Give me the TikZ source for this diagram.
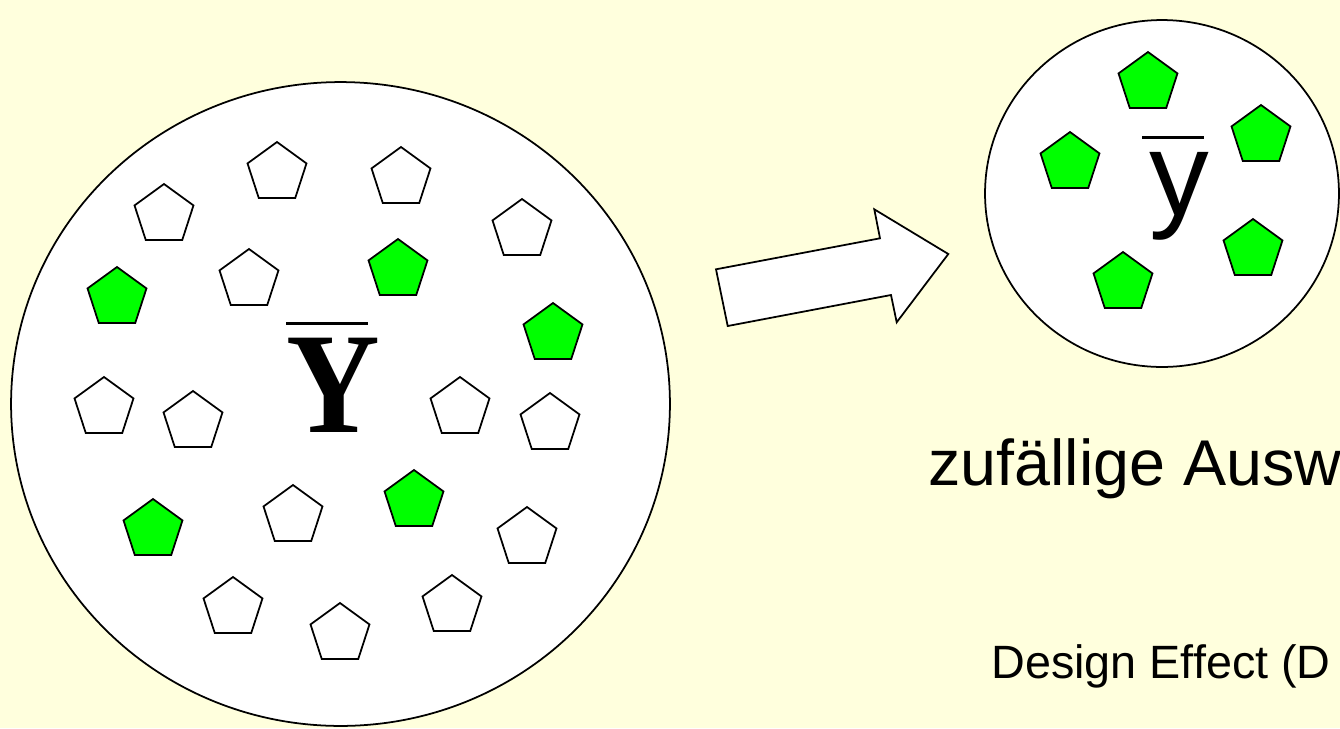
\documentclass[tikz,border=0pt]{standalone}
\usepackage{fontspec}
\setmainfont{Liberation Sans}
\newfontfamily\serifY{Liberation Serif}
\usetikzlibrary{shapes.geometric}
\definecolor{bgyellow}{RGB}{255,255,221}
\definecolor{pentgreen}{RGB}{0,255,0}
\tikzset{pent/.style={draw=black, line width=1pt, fill=white, regular polygon, regular polygon sides=5, minimum size=1.24cm, inner sep=0pt},
         pentg/.style={pent, fill=pentgreen},
         lbl/.style={inner sep=0pt, anchor=base west}}

\begin{document}
\begin{tikzpicture}[x=0.02cm,y=-0.02cm]
\useasboundingbox (0,0) rectangle (1340,728);
\fill[bgyellow] (0,0) rectangle (1340,728);
    % Population
    \draw[fill=white, line width=1pt] (340.5,404) ellipse (6.59cm and 6.44cm);
    \foreach \x/\y [count=\i] in {277/173, 401/178, 164/215, 522/230, 249/280, 104/408, 193/422, 460/408, 550/424, 293/516, 527/538, 233/608, 340/634, 452/606}
        \node[pent] (w\i) at (\x,\y) {};
    \foreach \x/\y [count=\i] in {398/270, 117/298, 553/334, 153/530, 414/501}
        \node[pentg] (g\i) at (\x,\y) {};
    \node[font=\serifY\bfseries\fontsize{82}{82}\selectfont, xscale=0.9, inner sep=0pt, anchor=base] (Ymean) at (333.5,432) {Y};
    \draw[line width=0.06cm] (286,323.5) -- (368,323.5);
    % Arrow
    \draw[fill=white, line width=1pt, line join=miter] (716,269.3) -- (880,238.3) -- (874.3,209.3) -- (948.3,254) -- (896.7,322.3) -- (891,295) -- (727.7,326) -- cycle;
    % Sample
    \draw[fill=white, line width=1pt] (1162,193.5) ellipse (3.54cm and 3.47cm);
    \foreach \x/\y [count=\i] in {1148/83, 1261/136, 1070/163, 1253/250, 1123/283}
        \node[pentg] (s\i) at (\x,\y) {};
    \node[font=\fontsize{68}{68}\selectfont, inner sep=0pt, anchor=base] (ymean) at (1179,215) {y};
    \draw[line width=0.07cm] (1142,137.3) -- (1204,137.3);
    % Labels
    \node[lbl, font=\fontsize{36.8}{40}\selectfont] (sel) at (928,485) {zufällige Ausw};
    \node[lbl, font=\fontsize{26.6}{30}\selectfont] (deff) at (991,678) {Design Effect (D};
\end{tikzpicture}
\end{document}
